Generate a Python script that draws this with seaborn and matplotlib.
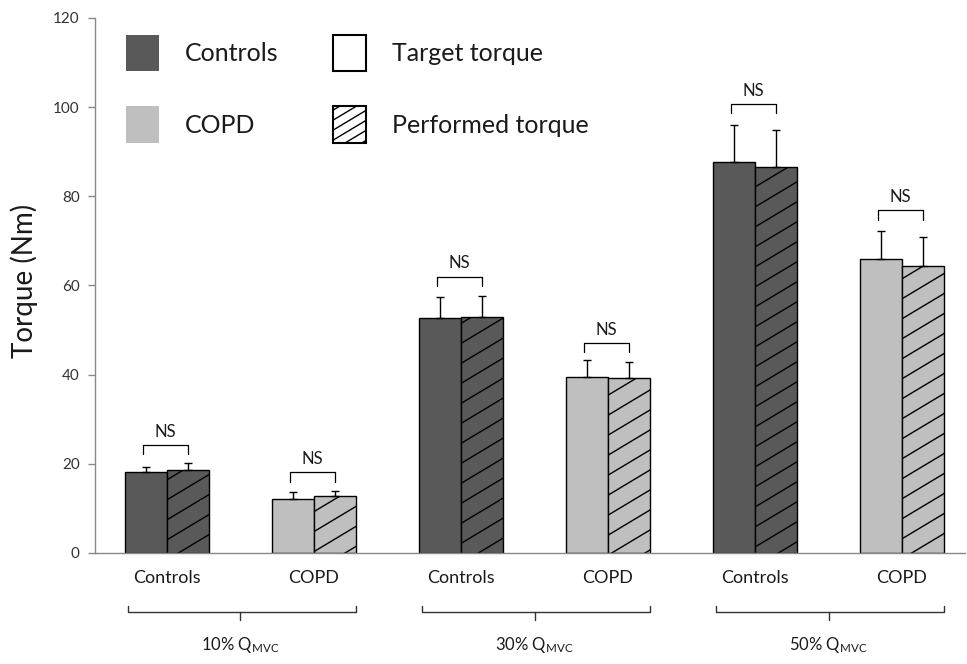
import matplotlib
matplotlib.use("Agg")
import matplotlib.pyplot as plt
import matplotlib.transforms as mtransforms
import matplotlib.hatch as mhatch
from matplotlib.path import Path
from matplotlib.patches import Patch
import seaborn as sns
import pandas as pd
import numpy as np

# ---- data ----
levels = ["10% Q$_{\\mathrm{MVC}}$", "30% Q$_{\\mathrm{MVC}}$", "50% Q$_{\\mathrm{MVC}}$"]
groups = ["Controls", "COPD"]
torque_types = ["Target torque", "Performed torque"]
target_vals = [18.2, 12.2, 52.6, 39.5, 87.7, 66.0]
performed_vals = [18.7, 12.7, 52.9, 39.2, 86.6, 64.4]
target_err = [1.1, 1.5, 4.8, 3.8, 8.3, 6.2]
performed_err = [1.5, 1.2, 4.7, 3.6, 8.2, 6.4]
ns_bracket_y = [24.2, 18.1, 62.0, 47.1, 100.7, 76.9]
y_ticks = [0, 20, 40, 60, 80, 100, 120]


# ---- shallow diagonal hatch (replaces the 45 degree '/' pattern) ----
class ShallowHatch(mhatch.HatchPatternBase):
    slope = 0.6

    def __init__(self, hatch, density):
        n = hatch.count('/')
        if n:
            per = 5 * n
            kmin = -int(np.ceil(self.slope * per))
            self.offsets = [k / per for k in range(kmin, per)]
        else:
            self.offsets = []
        self.num_vertices = 2 * len(self.offsets)

    def set_vertices_and_codes(self, vertices, codes):
        for i, c in enumerate(self.offsets):
            vertices[2 * i] = (0.0, c)
            vertices[2 * i + 1] = (1.0, c + self.slope)
            codes[2 * i] = Path.MOVETO
            codes[2 * i + 1] = Path.LINETO


mhatch._hatch_types = [ShallowHatch if t is mhatch.NorthEastHatch else t
                       for t in mhatch._hatch_types]

cats = [f"{lv}|{g}" for lv in levels for g in groups]
df = pd.DataFrame({
    "cat": cats * 2,
    "type": [torque_types[0]] * 6 + [torque_types[1]] * 6,
    "value": target_vals + performed_vals,
})

dark = "#595959"
light = "#BFBFBF"

sns.set_style("white")
plt.rcParams["font.family"] = ["Lato", "DejaVu Sans"]
plt.rcParams["mathtext.fontset"] = "custom"
plt.rcParams["mathtext.rm"] = "Lato"
plt.rcParams["mathtext.it"] = "Lato:italic"
plt.rcParams["hatch.linewidth"] = 1.0

fig = plt.figure(figsize=(9.67, 6.64), dpi=100)
ax = fig.add_axes([0.0982, 0.1672, 0.9, 0.8057])

sns.barplot(data=df, x="cat", y="value", hue="type", order=cats,
            hue_order=torque_types, width=0.572, gap=0, errorbar=None,
            legend=False, ax=ax)

bars = [p for p in ax.patches]
centers = []
for i, p in enumerate(bars):
    ci = i % 6
    is_perf = i >= 6
    p.set_facecolor(dark if ci % 2 == 0 else light)
    p.set_edgecolor("black")
    p.set_linewidth(1.0)
    if is_perf:
        p.set_hatch("/")
    centers.append(p.get_x() + p.get_width() / 2)

vals = target_vals + performed_vals
errs = target_err + performed_err
ax.errorbar(centers, vals, yerr=[np.zeros(12), errs], fmt="none",
            ecolor="black", elinewidth=1.0, capsize=3, capthick=1.0, zorder=1)

# NS brackets
for ci in range(6):
    x0 = centers[ci] - 0.02
    x1 = centers[ci + 6]
    yb = ns_bracket_y[ci]
    ax.plot([x0, x0, x1, x1], [yb - 2.1, yb, yb, yb - 2.1], color="black", lw=0.9)
    ax.text((x0 + x1) / 2, yb + 1.2, "NS", ha="center", va="bottom",
            fontsize=12, color="#1a1a1a")

ax.set_xlim(-0.49, 5.43)
ax.set_ylim(0, 120)
ax.set_yticks(y_ticks)
ax.set_yticklabels([str(t) for t in y_ticks], fontsize=11, color="#333333")
ax.set_xticks(range(6))
ax.set_xticklabels([g for lv in levels for g in groups], fontsize=13, color="#1a1a1a")
ax.tick_params(axis="x", length=0, pad=12)
ax.tick_params(axis="y", length=5, width=1, color="#888888", pad=6, left=True)
ax.set_xlabel("")
ax.set_ylabel("Torque (Nm)", fontsize=20, color="#1a1a1a")
ax.yaxis.set_label_coords(-0.065, 0.508)

for s in ["top", "right"]:
    ax.spines[s].set_visible(False)
for s in ["left", "bottom"]:
    ax.spines[s].set_color("#888888")
    ax.spines[s].set_linewidth(1.0)

# group braces below the axis
trans = mtransforms.blended_transform_factory(ax.transData, ax.transAxes)
bw = bars[0].get_width()
for gi, lv in enumerate(levels):
    xl = 2 * gi - bw + 0.02
    xr = 2 * gi + 1 + bw
    xm = 2 * gi + 0.5
    ax.plot([xl, xl, xr, xr], [-0.099, -0.110, -0.110, -0.099], color="#333333",
            lw=1.0, transform=trans, clip_on=False)
    ax.plot([xm, xm], [-0.110, -0.125], color="#333333", lw=1.0,
            transform=trans, clip_on=False)
    ax.text(xm, -0.172, lv, ha="center", va="center", fontsize=12,
            color="#1a1a1a", transform=trans)

# legend
handles = [
    Patch(facecolor=dark, edgecolor="none"),
    Patch(facecolor=light, edgecolor="none"),
    Patch(facecolor="white", edgecolor="black", linewidth=1.5),
    Patch(facecolor="white", edgecolor="black", linewidth=1.5, hatch="//"),
]
labels = ["Controls", "COPD", "Target torque", "Performed torque"]
leg = ax.legend(handles, labels, ncol=2, loc="upper left",
                bbox_to_anchor=(0.0356, 0.968), frameon=False, fontsize=18,
                handlelength=1.32, handleheight=1.86, handletextpad=1.05,
                columnspacing=2.16, labelspacing=1.4, borderpad=0,
                borderaxespad=0)
for t in leg.get_texts():
    t.set_color("#1a1a1a")

fig.savefig("out.png", dpi=100)
